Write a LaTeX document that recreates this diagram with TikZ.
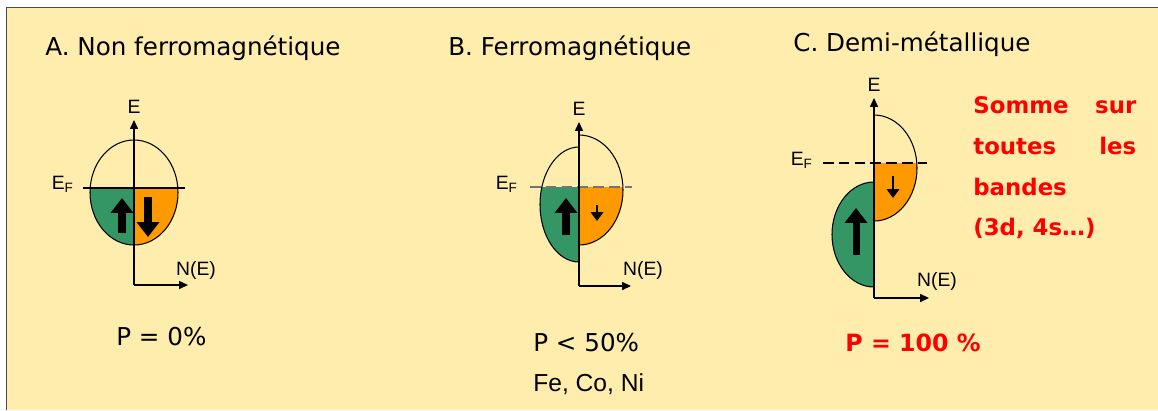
\documentclass[tikz,border=0pt]{standalone}
\usepackage{fontspec}
\setmainfont{Liberation Sans}
\newfontfamily\verd{DejaVu Sans}
\usetikzlibrary{arrows.meta}
\definecolor{fond}{RGB}{255,237,174}
\definecolor{vertband}{RGB}{51,150,100}
\definecolor{orband}{RGB}{255,153,0}
\definecolor{rouge}{RGB}{255,0,0}
\tikzset{
  axe/.style={line width=0.7pt,-{Triangle[length=5pt,width=4.5pt]}},
  bord/.style={line width=0.6pt},
  grosse/.style={line width=4pt,-{Triangle[length=8.5pt,width=12.5pt]}},
  petite/.style={line width=1.6pt,-{Triangle[length=5pt,width=7pt]}},
  lab/.style={font=\fontsize{11}{12}\selectfont},
  titre/.style={font=\verd\fontsize{14}{16}\selectfont,anchor=base west,inner sep=0pt},
  pval/.style={font=\verd\fontsize{14}{16}\selectfont,anchor=base west,inner sep=0pt},
  rtxt/.style={font=\verd\bfseries\fontsize{13}{15}\selectfont,text=rouge,anchor=base west,inner sep=0pt}
}
\begin{document}
\begin{tikzpicture}[x=0.02cm,y=-0.02cm]
\useasboundingbox (0,0) rectangle (1158,410);
% cadre
\fill[white] (0,0) rectangle (1158,410);
\fill[fond] (6.5,7.5) rectangle (1158,410);
\draw[line width=1.1pt,black!70] (6.5,410) -- (6.5,7.5) -- (1158,7.5);

% titres
\node[titre] (titreA) at (45,55) {A. Non ferromagnétique};
\node[titre] (titreB) at (448,55) {B. Ferromagnétique};
\node[titre] (titreC) at (793,51) {C. Demi-métallique};

% A. non ferromagnetique
\coordinate (A-o) at (134,285);
\coordinate (A-E) at (134,120);
\coordinate (A-N) at (188,285);
\begin{scope}
\clip (80,188) rectangle (134,260);
\fill[vertband] (134,192.5) ellipse [x radius=44, y radius=52.5];
\end{scope}
\begin{scope}
\clip (134,188) rectangle (190,260);
\fill[orband] (134,192.5) ellipse [x radius=44, y radius=52.5];
\end{scope}
\draw[bord] (134,192.5) ellipse [x radius=44, y radius=52.5];
\draw[bord] (83,188) -- (185,188);
\draw[axe] (A-o) -- (A-E);
\draw[axe] (A-o) -- (A-N);
\draw[grosse] (122,233) -- (122,198);
\draw[grosse] (148,197) -- (148,237);
\node[lab,above] (A-lE) at (A-E) {E};
\node[lab] (A-lN) at (196,270) {N(E)};
\node[lab,anchor=east] (A-lF) at (80,184) {E\textsubscript{F}};
\node[pval] (A-P) at (116,345) {P = 0\%};

% B. ferromagnetique
\coordinate (B-o) at (579,286);
\coordinate (B-E) at (579,122);
\coordinate (B-N) at (631,286);
\begin{scope}
\clip (520,187) rectangle (579,280);
\fill[vertband] (579,204.5) ellipse [x radius=39, y radius=57.5];
\end{scope}
\begin{scope}
\clip (579,187) rectangle (640,280);
\fill[orband] (579,190) ellipse [x radius=44, y radius=55];
\end{scope}
\begin{scope}
\clip (520,120) rectangle (579,280);
\draw[bord] (579,204.5) ellipse [x radius=39, y radius=57.5];
\end{scope}
\begin{scope}
\clip (579,120) rectangle (640,280);
\draw[bord] (579,190) ellipse [x radius=44, y radius=55];
\end{scope}
\draw[bord,black!55,dashed,dash pattern=on 6pt off 3pt] (530,187) -- (632,187);
\draw[axe] (B-o) -- (B-E);
\draw[axe] (B-o) -- (B-N);
\draw[grosse] (566,235) -- (566,198);
\draw[petite] (597,205) -- (597,221);
\node[lab,above] (B-lE) at (B-E) {E};
\node[lab] (B-lN) at (643,270) {N(E)};
\node[lab,anchor=east] (B-lF) at (524,184) {E\textsubscript{F}};
\node[pval] (B-P) at (533,351) {P < 50\%};
\node[anchor=base west,inner sep=0pt,font=\fontsize{14}{16}\selectfont] (B-met) at (533,391) {Fe, Co, Ni};

% C. demi-metallique
\coordinate (C-o) at (874,298);
\coordinate (C-E) at (874,98);
\coordinate (C-N) at (929,298);
\begin{scope}
\clip (874,163) rectangle (930,240);
\fill[orband] (874,168) ellipse [x radius=43, y radius=53];
\end{scope}
\begin{scope}
\clip (820,170) rectangle (874,300);
\fill[vertband] (874,234.5) ellipse [x radius=42, y radius=52.5];
\draw[bord] (874,234.5) ellipse [x radius=42, y radius=52.5];
\end{scope}
\begin{scope}
\clip (874,100) rectangle (930,240);
\draw[bord] (874,168) ellipse [x radius=43, y radius=53];
\end{scope}
\draw[bord,dashed,dash pattern=on 6pt off 3pt] (823,163) -- (927,163);
\draw[axe] (C-o) -- (C-E);
\draw[axe] (C-o) -- (C-N);
\draw[grosse] (856,255) -- (856,208);
\draw[petite] (893,176) -- (893,198);
\node[lab,above] (C-lE) at (C-E) {E};
\node[lab] (C-lN) at (937,281) {N(E)};
\node[lab,anchor=east] (C-lF) at (819,160) {E\textsubscript{F}};
\node[rtxt,font=\verd\bfseries\fontsize{13.5}{16}\selectfont] (C-P) at (845,351) {P = 100 \%};

% somme sur les bandes
\node[rtxt] (ligne1) at (973,113) {\makebox[3.26cm][s]{Somme sur}};
\node[rtxt] (ligne2) at (973,154) {\makebox[3.26cm][s]{toutes les}};
\node[rtxt] (ligne3) at (973,195) {bandes};
\node[rtxt] (ligne4) at (973,235) {(3d, 4s…)};
\end{tikzpicture}
\end{document}
